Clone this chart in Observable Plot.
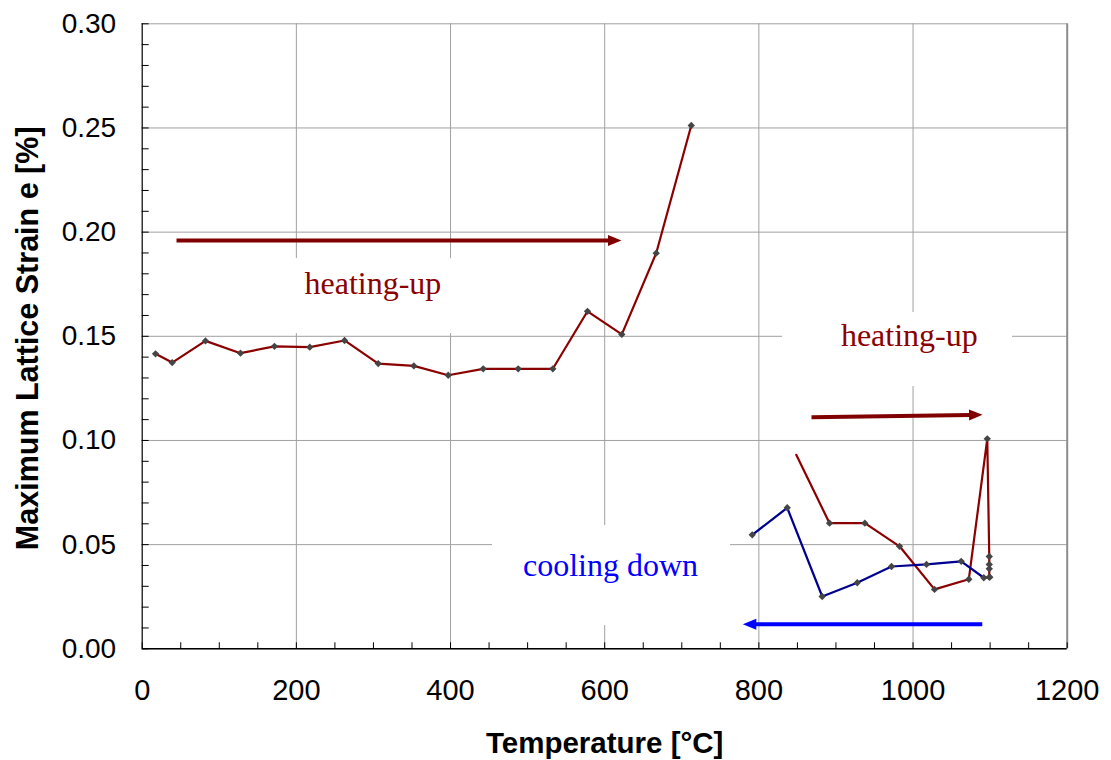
<!DOCTYPE html>
<html>
<head>
<meta charset="utf-8">
<script src="https://cdn.jsdelivr.net/npm/d3@7"></script>
<script src="https://cdn.jsdelivr.net/npm/@observablehq/plot@0.6"></script>
<style>
  html, body { margin: 0; padding: 0; background: #ffffff; }
  #chart svg { display: block; }
</style>
</head>
<body>
<div id="chart"></div>
<script>
// ---- data ----
// heating-up (first run)
const temp1   = [17.3, 38.9, 82.1, 127.5, 171.6, 217.4, 262.5, 306.2, 352.4, 397.0, 442.4, 487.8, 532.7, 577.7, 622.2, 666.8, 712.3];
const strain1 = [0.1416, 0.1374, 0.1478, 0.1419, 0.1452, 0.1448, 0.1480, 0.1369, 0.1358, 0.1313, 0.1344, 0.1344, 0.1344, 0.1620, 0.1509, 0.1899, 0.2512];
// heating-up (second run, high temperature)
const temp2   = [848.5, 891.7, 937.5, 982.5, 1027.9, 1072.4, 1096.3, 1098.9, 1098.9, 1098.9, 1098.9];
const strain2 = [0.0931, 0.0603, 0.0603, 0.0492, 0.0285, 0.0334, 0.1008, 0.0443, 0.0405, 0.0384, 0.0344];
// cooling down
const temp3   = [1099.6, 1091.8, 1062.5, 1017.5, 972.1, 927.6, 882.2, 836.8, 791.4];
const strain3 = [0.0344, 0.0341, 0.0420, 0.0405, 0.0395, 0.0317, 0.0251, 0.0677, 0.0547];

// axes ticks
const xMajor = [0, 200, 400, 600, 800, 1000, 1200];
const xMinor = d3.range(0, 1201, 50);
const yMajor = [0, 0.05, 0.10, 0.15, 0.20, 0.25, 0.30];
const yMinor = d3.range(0, 31, 1).map(d => d / 100);
const xTitle = "Temperature [°C]";
const yTitle = "Maximum Lattice Strain e [%]";

// annotations
const labelText = ["heating-up", "heating-up", "cooling down"];
const labelX    = [299.3, 995.2, 607.5];
const labelY    = [0.175, 0.1501, 0.0401];
const arrowX1 = [44.5, 868.3, 1089.8];
const arrowX2 = [620.5, 1088.9, 780.5];
const arrowY1 = [0.196, 0.1112, 0.0118];
const arrowY2 = [0.196, 0.1123, 0.0118];
// white boxes behind the labels (hide the grid)
const boxX1 = [100, 830.7, 454.5];
const boxX2 = [500, 1129, 763.2];
const boxY1 = [0.1513, 0.1259, 0.0112];
const boxY2 = [0.1873, 0.1614, 0.0592];

// ---- styles ----
const RED = "#8b0000";
const ARROW_RED = "#800000";
const NAVY = "#000090";
const BLUE = "#0000ff";
const labelColors = [RED, RED, BLUE];
const arrowColors = [ARROW_RED, ARROW_RED, BLUE];
const arrowRotate = [0, -0.8, 180];
const GRID = "#a0a0a0";

const toPts = (xs, ys) => xs.map((x, i) => ({x, y: ys[i]}));
const s1 = toPts(temp1, strain1);
const s2 = toPts(temp2, strain2);
const s3 = toPts(temp3, strain3);
const labels = labelText.map((t, i) => ({t, x: labelX[i], y: labelY[i], i}));
const arrows = arrowX1.map((x1, i) => ({x1, x2: arrowX2[i], y1: arrowY1[i], y2: arrowY2[i], i}));
const boxes = boxX1.map((x1, i) => ({x1, x2: boxX2[i], y1: boxY1[i], y2: boxY2[i]}));

// filled arrow head, tip at the origin, pointing +x
const headSymbol = {
  draw(context) {
    context.moveTo(1, 0);
    context.lineTo(-12.5, -5.5);
    context.lineTo(-12.5, 5.5);
    context.closePath();
  }
};

const chart = Plot.plot({
  width: 1111,
  height: 760,
  marginLeft: 141.7,
  marginRight: 44.3,
  marginTop: 23.3,
  marginBottom: 111.7,
  x: {domain: [0, 1200]},
  y: {domain: [0, 0.3]},
  style: {fontFamily: "'Liberation Sans', Arial, sans-serif", background: "#ffffff", color: "#000000"},
  marks: [
    Plot.ruleY(yMajor, {stroke: GRID, strokeWidth: 1}),
    Plot.ruleX(xMajor.filter(d => d > 0 && d < 1200), {stroke: GRID, strokeWidth: 1}),
    Plot.rect(boxes, {x1: "x1", x2: "x2", y1: "y1", y2: "y2", fill: "#ffffff"}),
    Plot.ruleX([1200], {stroke: "#8c8c8c", strokeWidth: 2}),
    Plot.ruleX([0], {stroke: "#000000", strokeWidth: 1.2}),
    Plot.ruleY([0], {stroke: "#000000", strokeWidth: 1.5}),
    // minor ticks (inside)
    Plot.axisY({ticks: yMinor, tickSize: 7, dx: 7, tickFormat: () => "", label: null, stroke: "#000000"}),
    Plot.axisX({ticks: xMinor, tickSize: 6, dy: -6, tickFormat: () => "", label: null, stroke: "#000000"}),
    // tick labels
    Plot.axisY({ticks: yMajor, tickSize: 0, tickPadding: 26, tickFormat: d => d.toFixed(2), fontSize: 28, label: null}),
    Plot.axisX({ticks: xMajor, tickSize: 0, tickPadding: 31, tickFormat: d => String(d), fontSize: 29, label: null}),
    // axis titles
    Plot.text([xTitle], {text: d => d, frameAnchor: "bottom", dy: 95, fontWeight: "bold", fontSize: 29.5, textAnchor: "middle", lineAnchor: "middle"}),
    Plot.text([yTitle], {text: d => d, frameAnchor: "left", dx: -114, dy: 2, rotate: -90, fontWeight: "bold", fontSize: 30.5, textAnchor: "middle", lineAnchor: "middle"}),
    // data lines
    Plot.line(s1, {x: "x", y: "y", stroke: RED, strokeWidth: 2.2}),
    Plot.line(s2, {x: "x", y: "y", stroke: RED, strokeWidth: 2.2}),
    Plot.line(s3, {x: "x", y: "y", stroke: NAVY, strokeWidth: 2.2}),
    // markers
    Plot.dot(s1.concat(s2.slice(1), s3), {x: "x", y: "y", symbol: "diamond2", r: 3.3, fill: "#454545", stroke: "none"}),
    // arrows
    Plot.arrow(arrows, {x1: "x1", y1: "y1", x2: "x2", y2: "y2", stroke: d => arrowColors[d.i], strokeWidth: 4, headLength: 0, insetEnd: 11, strokeLinecap: "butt"}),
    Plot.dot(arrows, {x: "x2", y: "y2", symbol: headSymbol, r: 5, rotate: d => arrowRotate[d.i], fill: d => arrowColors[d.i], stroke: "none"}),
    // labels
    Plot.text(labels, {x: "x", y: "y", text: "t", fill: d => labelColors[d.i], fontFamily: "'Liberation Serif', 'Times New Roman', serif", fontSize: 32, textAnchor: "middle", lineAnchor: "middle"})
  ]
});
document.getElementById("chart").appendChild(chart);
</script>
</body>
</html>
